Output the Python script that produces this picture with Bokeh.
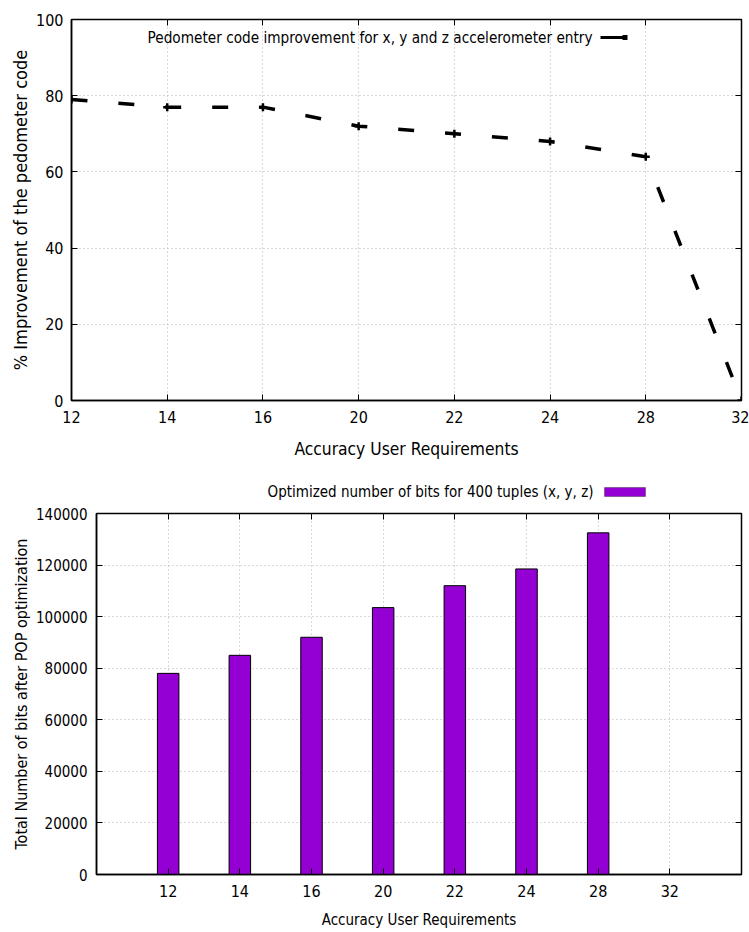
from bokeh.plotting import figure
from bokeh.models import (Range1d, FixedTicker, LinearAxis, Label, BoxAnnotation,
                          ColumnDataSource, BasicTickFormatter)
from bokeh.embed import file_html
from bokeh.resources import INLINE

# ---------------- data ----------------
categories = ["12", "14", "16", "20", "22", "24", "28", "32"]
improvement = [79, 77, 77, 72, 70, 68, 64, 0]
bits = [78000, 85000, 92000, 103500, 112000, 118500, 132500, 0]
improvement_ticks = [0, 20, 40, 60, 80, 100]
bits_ticks = [0, 20000, 40000, 60000, 80000, 100000, 120000, 140000]

line_legend = "Pedometer code improvement for x, y and z accelerometer entry"
bar_legend = "Optimized number of bits for 400 tuples (x, y, z)"
x_title = "Accuracy User Requirements"
y1_title = "% Improvement of the pedometer code"
y2_title = "Total Number of bits after POP optimization"

FONT = "DejaVu Sans Condensed, DejaVu Sans"
BAR_COLOR = "#9400D3"
idx = list(range(len(categories)))
overrides = {i: c for i, c in zip(idx, categories)}

src1 = ColumnDataSource(dict(x=idx, y=improvement))
src2 = ColumnDataSource(dict(x=idx, top=bits))


def style_main_axis(ax, tick_size="16px", standoff=9):
    ax.major_tick_in = 6
    ax.major_tick_out = 0
    ax.minor_tick_in = 0
    ax.minor_tick_out = 0
    ax.major_tick_line_color = "black"
    ax.major_tick_line_width = 1
    ax.axis_line_color = "black"
    ax.axis_line_width = 1.5
    ax.major_label_text_font = FONT
    ax.major_label_text_font_size = tick_size
    ax.major_label_text_color = "black"
    ax.major_label_standoff = standoff
    ax.axis_label_text_font = FONT
    ax.axis_label_text_font_style = "normal"
    ax.axis_label_text_color = "black"


def add_mirror(p, ticker, side):
    ax = LinearAxis(ticker=ticker)
    ax.major_tick_in = 6
    ax.major_tick_out = 0
    ax.minor_tick_in = 0
    ax.minor_tick_out = 0
    ax.major_tick_line_color = "black"
    ax.axis_line_color = None
    ax.major_label_text_font_size = "0px"
    ax.major_label_standoff = 0
    ax.major_label_text_alpha = 0
    p.add_layout(ax, side)


def style_fig(p):
    p.outline_line_color = "black"
    p.outline_line_width = 1.5
    p.background_fill_color = "white"
    p.border_fill_color = "white"
    for g in (p.xgrid[0], p.ygrid[0]):
        g.grid_line_color = "#b0b0b0"
        g.grid_line_dash = "1 3"
        g.grid_line_width = 1


# ---------------- top: line chart ----------------
xt1 = FixedTicker(ticks=idx)
yt1 = FixedTicker(ticks=improvement_ticks)
p1 = figure(width=749, height=468, x_range=Range1d(idx[0], idx[-1]),
            y_range=Range1d(0, 100), output_backend="svg", toolbar_location=None,
            min_border_left=71, min_border_right=8, min_border_top=19,
            min_border_bottom=68)
p1.xaxis.ticker = xt1
p1.yaxis.ticker = yt1
p1.xaxis.major_label_overrides = overrides
style_main_axis(p1.xaxis[0], "16px", 10)
style_main_axis(p1.yaxis[0], "16px", 8)
p1.xaxis.axis_label = x_title
p1.xaxis.axis_label_text_font_size = "17.3px"
p1.xaxis.axis_label_standoff = 13
p1.yaxis.axis_label = y1_title
p1.yaxis.axis_label_text_font_size = "18px"
p1.yaxis.axis_label_standoff = 2
add_mirror(p1, xt1, "above")
add_mirror(p1, yt1, "right")
style_fig(p1)

p1.line("x", "y", source=src1, line_width=3.5, line_dash="16 31", color="black")
p1.scatter("x", "y", source=src1, marker="cross", size=8, line_width=2.5, color="black")

p1.add_layout(Label(x=521, y=363, x_units="screen", y_units="screen", text=line_legend,
                    text_align="right", text_baseline="middle", text_font=FONT,
                    text_font_size="15.2px", text_color="black"))
p1.add_layout(BoxAnnotation(left=529, right=554, bottom=361.5, top=364.5,
                            left_units="screen", right_units="screen",
                            bottom_units="screen", top_units="screen",
                            fill_color="black", fill_alpha=1, line_color=None))
p1.add_layout(BoxAnnotation(left=551, right=556, bottom=360.5, top=365.5,
                            left_units="screen", right_units="screen",
                            bottom_units="screen", top_units="screen",
                            fill_color="black", fill_alpha=1, line_color=None))

# ---------------- legend strip for the bar chart ----------------
pl = figure(width=749, height=36, x_range=Range1d(0, 1), y_range=Range1d(0, 1),
            x_axis_type=None, y_axis_type=None, output_backend="svg",
            toolbar_location=None, min_border=0)
pl.outline_line_color = None
pl.background_fill_color = "white"
pl.border_fill_color = "white"
pl.grid.visible = False
pl.add_layout(Label(x=593, y=13, x_units="screen", y_units="screen", text=bar_legend,
                    text_align="right", text_baseline="middle", text_font=FONT,
                    text_font_size="15px", text_color="black"))
pl.add_layout(BoxAnnotation(left=604, right=645, bottom=8, top=17,
                            left_units="screen", right_units="screen",
                            bottom_units="screen", top_units="screen",
                            fill_color=BAR_COLOR, fill_alpha=1, line_color="black",
                            line_width=1))

# ---------------- bottom: bar chart ----------------
xt2 = FixedTicker(ticks=idx)
yt2 = FixedTicker(ticks=bits_ticks)
p2 = figure(width=749, height=428, x_range=Range1d(idx[0] - 1, idx[-1] + 1),
            y_range=Range1d(0, 140000), output_backend="svg", toolbar_location=None,
            min_border_left=96, min_border_right=8, min_border_top=9,
            min_border_bottom=58)
p2.xaxis.ticker = xt2
p2.yaxis.ticker = yt2
p2.xaxis.major_label_overrides = overrides
p2.yaxis.formatter = BasicTickFormatter(use_scientific=False)
style_main_axis(p2.xaxis[0], "16px", 10)
style_main_axis(p2.yaxis[0], "15px", 9)
p2.xaxis.axis_label = x_title
p2.xaxis.axis_label_text_font_size = "15px"
p2.xaxis.axis_label_standoff = 11
p2.yaxis.axis_label = y2_title
p2.yaxis.axis_label_text_font_size = "16px"
p2.yaxis.axis_label_standoff = 2
add_mirror(p2, xt2, "above")
add_mirror(p2, yt2, "right")
style_fig(p2)

p2.vbar(x="x", top="top", source=src2, width=0.3, fill_color=BAR_COLOR,
        line_color="black", line_width=1)

open("out.html", "w").write(file_html([p1, pl, p2], INLINE))
